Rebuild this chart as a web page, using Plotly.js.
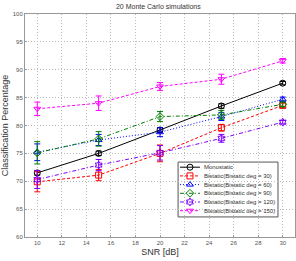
<!DOCTYPE html>
<html><head><meta charset="utf-8">
<script src="https://cdn.plot.ly/plotly-3.0.1.min.js"></script>
<style>body{margin:0;background:#fff}#c{width:296px;height:261px}</style>
</head><body><div id="c"></div>
<script>
const snr = [10, 15, 20, 25, 30];
const names = ["Monostatic","Bistatic(Bistatic deg = 30)","Bistatic(Bistatic deg = 60)","Bistatic(Bistatic deg = 90)","Bistatic(Bistatic deg = 120)","Bistatic(Bistatic deg = 150)"];
const mono = [71.5, 75.0, 79.2, 83.5, 87.6];
const bi30 = [69.9, 71.1, 75.0, 79.6, 83.6];
const bi60 = [75.2, 77.4, 78.8, 81.6, 84.7];
const bi90 = [75.1, 77.6, 81.6, 81.9, 83.8];
const bi120 = [70.3, 72.9, 75.1, 77.7, 80.6];
const bi150 = [83.0, 84.0, 87.0, 88.3, 91.6];
const errMono = [0.4, 0.4, 0.4, 0.4, 0.3];
const err30 = [1.8, 1.0, 1.5, 0.6, 0.4];
const err60 = [1.5, 1.0, 0.8, 0.7, 0.4];
const err90 = [2.0, 1.3, 0.9, 0.8, 0.4];
const err120 = [1.6, 1.0, 1.3, 0.7, 0.3];
const err150 = [1.2, 1.3, 0.7, 0.9, 0.4];

const series = [mono, bi30, bi60, bi90, bi120, bi150];
const errs = [errMono, err30, err60, err90, err120, err150];
const colors = ["#000000","#ff0000","#0000ff","#008000","#7f00ff","#ff00ff"];
const dashes = ["solid","3px,2px","1px,2px","4px,2px,1px,2px","4px,2px,1px,2px","3px,2px"];
const symbols = ["circle-open","square-open","triangle-up-open","diamond-open","hexagram-open","triangle-down-open"];

const traces = series.map((s,i)=>({
  x: snr, y: s, name: names[i], type: "scatter", mode: "lines+markers", showlegend: false,
  line: {color: colors[i], width: 1, dash: dashes[i]},
  marker: {symbol: symbols[i], size: 6, color: colors[i], line: {width: 1, color: colors[i]}},
  error_y: {type: "data", array: errs[i], visible: true, color: colors[i], thickness: 1, width: 3}
}));

// Custom compact legend (plot-area fractions)
const legBox = {x0: 0.567, x1: 0.937, y0: 0.09, y1: 0.336};
const legTop = 0.313, legStep = 0.039;
const lineX0 = 0.574, lineX1 = 0.648, markX = 0.611, textX = 0.656;
const shapes = [{type: "rect", xref: "paper", yref: "paper", x0: legBox.x0, x1: legBox.x1, y0: legBox.y0, y1: legBox.y1,
  line: {color: "#555", width: 1}, fillcolor: "#fff", layer: "between"}];
const annotations = [];
names.forEach((n,i)=>{
  const yy = legTop - i*legStep;
  shapes.push({type: "line", xref: "paper", yref: "paper", x0: lineX0, x1: lineX1, y0: yy, y1: yy,
    line: {color: colors[i], width: 1, dash: dashes[i]}, layer: "above"});
  annotations.push({xref: "paper", yref: "paper", x: textX, y: yy, text: n, showarrow: false,
    xanchor: "left", yanchor: "middle", font: {size: 6, color: "#333"}});
});
traces.push({
  x: names.map(()=>markX), y: names.map((n,i)=>legTop - i*legStep), xaxis: "x2", yaxis: "y2",
  type: "scatter", mode: "markers", showlegend: false, hoverinfo: "skip",
  marker: {symbol: symbols, size: 6, color: colors, line: {width: 1, color: colors}}
});

const layout = {
  width: 296, height: 261,
  margin: {l: 25, r: 1, t: 14, b: 24},
  paper_bgcolor: "#fff", plot_bgcolor: "#fff",
  font: {family: "Liberation Sans, Arial, sans-serif", size: 6, color: "#444"},
  title: {text: "20 Monte Carlo simulations", font: {size: 7, color: "#333"}, x: 0.535, xanchor: "center", y: 0.985, yanchor: "top"},
  xaxis: {range: [9, 31], tickvals: [10,12,14,16,18,20,22,24,26,28,30], showgrid: true, gridcolor: "#bbb", griddash: "1px,2px", gridwidth: 1,
    zeroline: false, showline: true, mirror: true, linecolor: "#999", linewidth: 1, ticks: "inside", ticklen: 2, tickcolor: "#999",
    tickfont: {size: 6, color: "#555"},
    title: {text: "SNR [dB]", font: {size: 9, color: "#333"}, standoff: 3}},
  yaxis: {range: [60, 100], tickvals: [60,65,70,75,80,85,90,95,100], showgrid: true, gridcolor: "#bbb", griddash: "1px,2px", gridwidth: 1,
    zeroline: false, showline: true, mirror: true, linecolor: "#999", linewidth: 1, ticks: "inside", ticklen: 2, tickcolor: "#999",
    tickfont: {size: 6, color: "#555"},
    title: {text: "Classification Percentage", font: {size: 9, color: "#333"}, standoff: 2}},
  xaxis2: {overlaying: "x", range: [0, 1], visible: false, fixedrange: true},
  yaxis2: {overlaying: "y", range: [0, 1], visible: false, fixedrange: true},
  shapes: shapes, annotations: annotations,
  showlegend: false
};
Plotly.newPlot("c", traces, layout, {staticPlot: true, displayModeBar: false});
</script>
</body></html>
